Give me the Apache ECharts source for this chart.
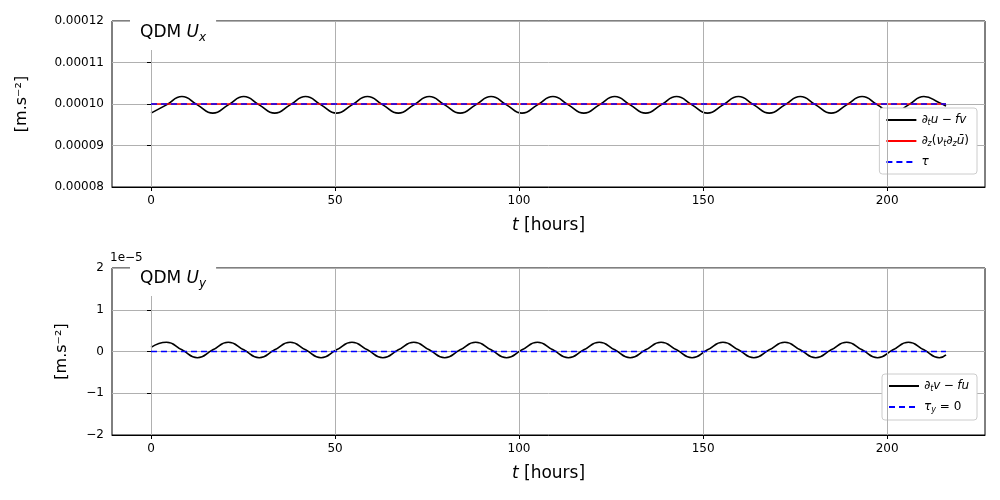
<!DOCTYPE html>
<html><head><meta charset="utf-8">
<script src="https://cdn.jsdelivr.net/npm/echarts@6/dist/echarts.min.js"></script>
<style>html,body{margin:0;background:#fff}#c{width:1000px;height:500px}</style>
</head><body><div id="c"></div>
<script>
// Ux: key points (hours, value)
const tX = [0,4.2,8.4,12.6,16.8,21,25.2,29.4,33.6,37.8,42,46.2,50.4,54.6,58.8,63,67.2,71.4,75.6,79.8,84,88.2,92.4,96.6,100.8,105,109.2,113.4,117.6,121.8,126,130.2,134.4,138.6,142.8,147,151.2,155.4,159.6,163.8,168,172.2,176.4,180.6,184.8,189,193.2,197.4,201.6,205.8,210,214.2,216];
const uxVals = [0.0000978,0.0000998,0.0001018,0.0000998,0.0000978,0.0000998,0.0001018,0.0000998,0.0000978,0.0000998,0.0001018,0.0000998,0.0000978,0.0000998,0.0001018,0.0000998,0.0000978,0.0000998,0.0001018,0.0000998,0.0000978,0.0000998,0.0001018,0.0000998,0.0000978,0.0000998,0.0001018,0.0000998,0.0000978,0.0000998,0.0001018,0.0000998,0.0000978,0.0000998,0.0001018,0.0000998,0.0000978,0.0000998,0.0001018,0.0000998,0.0000978,0.0000998,0.0001018,0.0000998,0.0000978,0.0000998,0.0001018,0.0000998,0.0000978,0.0000998,0.0001018,0.0001003,0.0000995];
const diffVals = [[0,0.0001],[216,0.0001]];
const tauVals = [[0,0.0001],[216,0.0001]];
// Uy (units of 1e-5)
const tY = [0,4.2,8.4,12.6,16.8,21,25.2,29.4,33.6,37.8,42,46.2,50.4,54.6,58.8,63,67.2,71.4,75.6,79.8,84,88.2,92.4,96.6,100.8,105,109.2,113.4,117.6,121.8,126,130.2,134.4,138.6,142.8,147,151.2,155.4,159.6,163.8,168,172.2,176.4,180.6,184.8,189,193.2,197.4,201.6,205.8,210,214.2,216];
const uyVals = [0.1,0.22,0.04,-0.15,0.04,0.22,0.04,-0.15,0.04,0.22,0.04,-0.15,0.04,0.22,0.04,-0.15,0.04,0.22,0.04,-0.15,0.04,0.22,0.04,-0.15,0.04,0.22,0.04,-0.15,0.04,0.22,0.04,-0.15,0.04,0.22,0.04,-0.15,0.04,0.22,0.04,-0.15,0.04,0.22,0.04,-0.15,0.04,0.22,0.04,-0.15,0.04,0.22,0.04,-0.15,-0.08];
const tauY = [[0,0],[216,0]];
const xTicks = [0,50,100,150,200];

const chart = echarts.init(document.getElementById('c'));
const F = 'DejaVu Sans';
const xAx = (i) => ({
  gridIndex: i, type: 'value', min: -10.6, max: 226.6,
  axisLine: {onZero: false, lineStyle: {color: '#000'}},
  axisLabel: {color: '#000', fontFamily: F, fontSize: 12, customValues: xTicks},
  axisTick: {customValues: xTicks, length: 4, lineStyle: {color: '#000'}},
  splitLine: {show: false},
  name: '{i|t} [hours]', nameLocation: 'middle', nameGap: 30,
  nameTextStyle: {fontFamily: F, fontSize: 17, color: '#000', rich: {i: {fontStyle: 'italic', fontFamily: F, fontSize: 17}}}
});
const rich = {
  b: {fontFamily: F, fontSize: 12, fontStyle: 'italic', color: '#000'},
  s: {fontFamily: F, fontSize: 8, fontStyle: 'italic', verticalAlign: 'bottom', padding: [6,0,0,0], color: '#000'},
  n: {fontFamily: F, fontSize: 12, color: '#000'}
};
const vgrid = (gi) => ({
  type: 'line', xAxisIndex: gi, yAxisIndex: gi, silent: true, symbol: 'none', data: [],
  markLine: {silent: true, symbol: 'none', label: {show: false}, lineStyle: {color: '#b0b0b0', width: 1, type: 'solid'},
    data: xTicks.map(v => ({xAxis: v}))}, z: 0
});
const tt = {n: {fontFamily: F, fontSize: 17}, i: {fontFamily: F, fontSize: 17, fontStyle: 'italic'}, s: {fontFamily: F, fontSize: 12, fontStyle: 'italic', verticalAlign: 'bottom', padding: [10,0,0,0]}};
chart.setOption({
  animation: false,
  grid: [
    {left: 112, right: 15, top: 21, height: 166, show: true, borderColor: '#000', borderWidth: 1},
    {left: 112, right: 15, top: 268, height: 167, show: true, borderColor: '#000', borderWidth: 1}
  ],
  xAxis: [xAx(0), xAx(1)],
  yAxis: [
    {gridIndex: 0, type: 'value', min: 0.00008, max: 0.00012, interval: 0.00001,
     axisLine: {show: true, lineStyle: {color: '#000'}}, axisTick: {show: true, length: 4, lineStyle: {color: '#000'}},
     axisLabel: {color: '#000', fontFamily: F, fontSize: 12, formatter: v => v.toFixed(5)},
     splitLine: {lineStyle: {color: '#b0b0b0'}},
     name: '[m.s⁻²]', nameLocation: 'middle', nameGap: 82, nameRotate: 90,
     nameTextStyle: {fontFamily: F, fontSize: 16, color: '#000'}},
    {gridIndex: 1, type: 'value', min: -2, max: 2, interval: 1,
     axisLine: {show: true, lineStyle: {color: '#000'}}, axisTick: {show: true, length: 4, lineStyle: {color: '#000'}},
     axisLabel: {color: '#000', fontFamily: F, fontSize: 12, formatter: v => v < 0 ? '−' + (-v) : '' + v},
     splitLine: {lineStyle: {color: '#b0b0b0'}},
     name: '[m.s⁻²]', nameLocation: 'middle', nameGap: 42, nameRotate: 90,
     nameTextStyle: {fontFamily: F, fontSize: 16, color: '#000'}}
  ],
  legend: [
    {right: 23, top: 108, orient: 'vertical', itemWidth: 30, itemHeight: 2, itemGap: 8,
     backgroundColor: '#fff', borderColor: '#ccc', borderWidth: 1, borderRadius: 3, padding: [6,8,6,6],
     data: ['ux', 'diff', 'tau'],
     formatter: n => ({ux: '{n|∂}{s|t}{b|u} {n|−} {b|fv}', diff: '{n|∂}{s|z}{n|(}{b|ν}{s|t}{n|∂}{s|z}{b|ū}{n|)}', tau: '{b|τ}'})[n],
     textStyle: {rich: rich}},
    {right: 23, top: 374, orient: 'vertical', itemWidth: 30, itemHeight: 2, itemGap: 8,
     backgroundColor: '#fff', borderColor: '#ccc', borderWidth: 1, borderRadius: 3, padding: [6,8,6,6],
     data: ['uy', 'tauy'],
     formatter: n => ({uy: '{n|∂}{s|t}{b|v} {n|−} {b|fu}', tauy: '{b|τ}{s|y}{n| = 0}'})[n],
     textStyle: {rich: rich}}
  ],
  graphic: [
    {type: 'text', left: 130, top: 16, z: 100, style: {text: '{n|QDM }{i|U}{s|x}', backgroundColor: '#fff', padding: [6,10,6,10], rich: tt}},
    {type: 'text', left: 130, top: 262, z: 100, style: {text: '{n|QDM }{i|U}{s|y}', backgroundColor: '#fff', padding: [6,10,6,10], rich: tt}},
    {type: 'text', left: 110, top: 252, style: {text: '1e−5', fontFamily: F, fontSize: 12, fill: '#000'}}
  ],
  series: [
    vgrid(0), vgrid(1),
    {name: 'ux', type: 'line', xAxisIndex: 0, yAxisIndex: 0, smooth: 0.5, symbol: 'none',
     lineStyle: {color: '#000', width: 1.6}, itemStyle: {color: '#000'}, data: tX.map((t, i) => [t, uxVals[i]]), z: 3},
    {name: 'diff', type: 'line', xAxisIndex: 0, yAxisIndex: 0, symbol: 'none',
     lineStyle: {color: '#ff0000', width: 1.6}, itemStyle: {color: '#ff0000'}, data: diffVals, z: 4},
    {name: 'tau', type: 'line', xAxisIndex: 0, yAxisIndex: 0, symbol: 'none',
     lineStyle: {color: '#0000ff', width: 1.6, type: [6, 4]}, itemStyle: {color: '#0000ff'}, data: tauVals, z: 5},
    {name: 'uy', type: 'line', xAxisIndex: 1, yAxisIndex: 1, smooth: 0.5, symbol: 'none',
     lineStyle: {color: '#000', width: 1.6}, itemStyle: {color: '#000'}, data: tY.map((t, i) => [t, uyVals[i]]), z: 3},
    {name: 'tauy', type: 'line', xAxisIndex: 1, yAxisIndex: 1, symbol: 'none',
     lineStyle: {color: '#0000ff', width: 1.6, type: [6, 4]}, itemStyle: {color: '#0000ff'}, data: tauY, z: 5}
  ]
});
</script></body></html>
